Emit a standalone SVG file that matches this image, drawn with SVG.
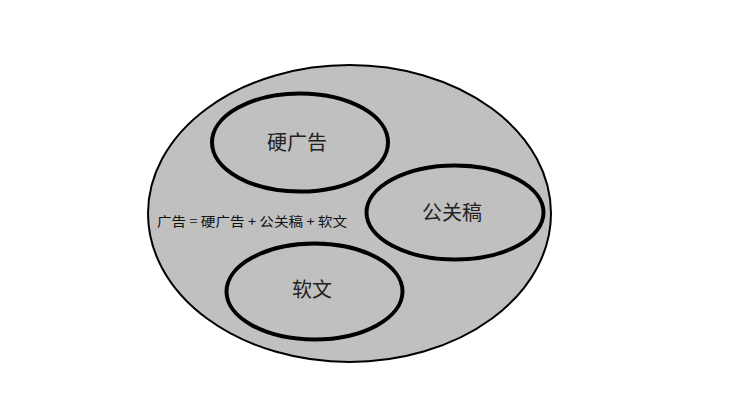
<svg xmlns="http://www.w3.org/2000/svg" width="731" height="400" viewBox="0 0 731 400">
<style>
.inner{fill:none;stroke:#000;stroke-width:4}
.lbl{font-family:"Noto Sans CJK SC","Noto Sans",sans-serif;font-size:20px;fill:#222;text-anchor:middle}
.eq{font-family:"Noto Sans CJK SC","Noto Sans",sans-serif;font-size:13px;fill:#111}
</style>
<rect width="731" height="400" fill="#fff"/>
<g id="outer">
<ellipse cx="349.5" cy="213.5" rx="201.5" ry="148.5" fill="#c0c0c0" stroke="#000" stroke-width="2"/>
<text class="eq" x="157" y="226" textLength="190" lengthAdjust="spacingAndGlyphs">广告 = 硬广告 + 公关稿 + 软文</text>
</g>
<g id="hard-ad">
<ellipse class="inner" cx="300" cy="142.5" rx="88" ry="49"/>
<text class="lbl" x="297" y="150">硬广告</text>
</g>
<g id="pr">
<ellipse class="inner" cx="455" cy="212.5" rx="88.5" ry="47"/>
<text class="lbl" x="452" y="220">公关稿</text>
</g>
<g id="soft">
<ellipse class="inner" cx="314.5" cy="291.5" rx="88" ry="48"/>
<text class="lbl" x="312" y="297">软文</text>
</g>
<g id="connectors"/>
</svg>
